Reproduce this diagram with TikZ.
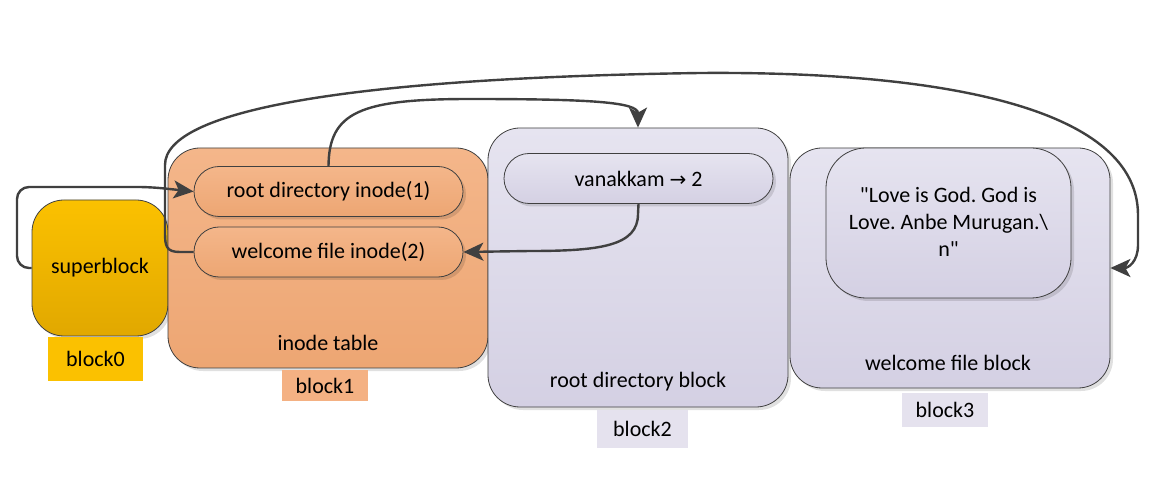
\documentclass[tikz,border=0pt]{standalone}
\usepackage{fontspec}
\setmainfont{Carlito}[Ligatures=TeXOff]
\newfontfamily\dejavu{DejaVu Sans}
\usetikzlibrary{shapes.misc,arrows.meta,shadows}
\frenchspacing
\definecolor{edge}{HTML}{404040}
\definecolor{goldT}{HTML}{FBC100}
\definecolor{goldB}{HTML}{E1A800}
\definecolor{orT}{HTML}{F4B68A}
\definecolor{orB}{HTML}{EDA673}
\definecolor{lavT}{HTML}{E6E4F0}
\definecolor{lavB}{HTML}{D4D0E3}
\definecolor{tagOr}{HTML}{F4B183}
\definecolor{tagLav}{HTML}{E5E2EE}
\tikzset{
  shad/.style={drop shadow={shadow xshift=3pt,shadow yshift=-3pt,fill=black,opacity=0.12}},
  blockbox/.style={draw=edge,line width=0.8pt,rounded corners=32pt,shad,inner sep=0pt},
  pill/.style={draw=edge,line width=0.8pt,rounded rectangle,shad,inner sep=0pt,minimum width=269pt,minimum height=50pt},
  tag/.style={inner sep=0pt},
  conn/.style={draw=edge,line width=2.4pt,-{Stealth[length=20pt,width=18pt,inset=5pt]}},
  txt/.style={inner sep=0pt}
}
\begin{document}
\begin{tikzpicture}[x=1pt,y=-1pt,font=\fontsize{22}{27}\selectfont]
\useasboundingbox (0,0) rectangle (1173,494);
\fill[white] (0,0) rectangle (1173,494);

% blocks
\node[blockbox,top color=goldT,bottom color=goldB,minimum width=136pt,minimum height=136pt] (sb) at (100,268) {};
\node[txt] (sbt) at (100,268) {superblock};
\node[tag,fill=goldT,minimum width=95pt,minimum height=44pt] (b0) at (95.5,359) {block0};

\node[blockbox,top color=orT,bottom color=orB,minimum width=320pt,minimum height=220pt] (it) at (328,258) {};
\node[txt] (itt) at (328,343) {inode table};
\node[tag,fill=tagOr,minimum width=86pt,minimum height=31pt] (b1) at (325,385.5) {block1};

\node[pill,top color=orT,bottom color=orB] (rin) at (328.5,191.5) {root directory inode(1)};
\node[pill,top color=orT,bottom color=orB] (win) at (328.5,252) {welcome file inode(2)};

\node[blockbox,top color=lavT,bottom color=lavB,minimum width=300pt,minimum height=279pt] (rdb) at (638,267.5) {};
\node[txt] (rdbt) at (638,382) {root directory block};
\node[tag,fill=tagLav,minimum width=91pt,minimum height=38pt] (b2) at (642.5,429) {block2};
\node[pill,top color=lavT,bottom color=lavB] (van) at (638.5,178.5) {vanakkam {\dejavu\fontsize{20}{22}\selectfont →} 2};

\node[blockbox,top color=lavT,bottom color=lavB,minimum width=320pt,minimum height=240pt] (wfb) at (950,268) {};
\node[txt] (wfbt) at (948,363) {welcome file block};
\node[tag,fill=tagLav,minimum width=86pt,minimum height=34pt] (b3) at (945,410) {block3};
\node[blockbox,rounded corners=40pt,top color=lavT,bottom color=lavB,minimum width=245pt,minimum height=150pt] (wtx) at (948.5,223) {};
\node[txt,align=center] (wtxt) at (948.5,222) {"Love is God. God is\\Love. Anbe Murugan.\textbackslash\\n"};

% connectors
\draw[conn,rounded corners=12pt] (sb.west) -| (17,187) -- (150,187) -- (rin.west);
\draw[conn] (rin.north) .. controls (329,112) and (360,99) .. (470,99)
  .. controls (590,99) and (638,102) .. (rdb.north);
\draw[conn] (van.south) -- (638,214) .. controls (638,246) and (600,251) .. (530,251) -- (win.east);
\draw[conn] (win.west) -- (180,252) .. controls (166,252) and (165,246) .. (165,232) -- (165,165)
  .. controls (165,110) and (350,78) .. (700,73)
  .. controls (950,71) and (1138,110) .. (1138,215) -- (1138,245)
  .. controls (1138,262) and (1128,268) .. (wfb.east);
\end{tikzpicture}
\end{document}
